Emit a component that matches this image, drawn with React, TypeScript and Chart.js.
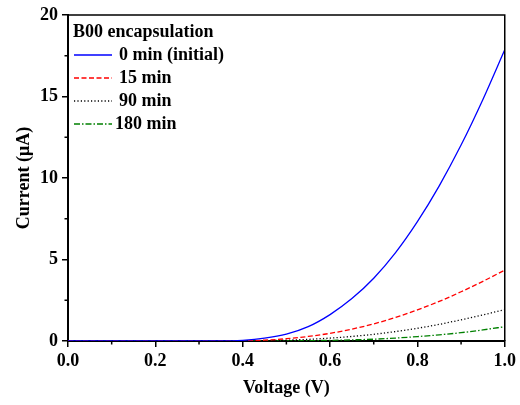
import React, { useEffect, useRef } from "react";
import { Chart, registerables } from "chart.js";

Chart.register(...registerables);

const voltage = [0, 0.05, 0.1, 0.15, 0.2, 0.25, 0.3, 0.35, 0.4, 0.45, 0.5, 0.55, 0.6, 0.65, 0.7, 0.75, 0.8, 0.85, 0.9, 0.95, 1.0];
const current0 = [0, 0, 0, 0, 0, 0, 0, 0, 0.04, 0.17, 0.42, 0.88, 1.62, 2.6, 3.85, 5.42, 7.32, 9.52, 12.02, 14.82, 17.87];
const current15 = [0, 0, 0, 0, 0, 0, 0, 0, 0.01, 0.05, 0.14, 0.28, 0.47, 0.73, 1.05, 1.45, 1.91, 2.43, 3.02, 3.66, 4.35];
const current90 = [0, 0, 0, 0, 0, 0, 0, 0, 0, 0.02, 0.05, 0.1, 0.18, 0.28, 0.41, 0.58, 0.78, 1.02, 1.3, 1.6, 1.93];
const current180 = [0, 0, 0, 0, 0, 0, 0, 0, 0, 0, 0.01, 0.02, 0.04, 0.07, 0.11, 0.18, 0.27, 0.38, 0.51, 0.68, 0.88];
const seriesLabels = ["0 min (initial)", "15 min", "90 min", "180 min"];
const legendTitle = "B00 encapsulation";
const xMinorTicks = [0.1, 0.3, 0.5, 0.7, 0.9];
const yMinorTicks = [2.5, 7.5, 12.5, 17.5];

const FONT = "'Liberation Serif', 'Times New Roman', serif";

const framePlugin = {
  id: "frame",
  afterDraw(chart: any) {
    const { ctx, chartArea } = chart;
    const { left, right, top, bottom } = chartArea;
    ctx.save();
    ctx.strokeStyle = "#000";
    ctx.lineWidth = 1.5;
    ctx.beginPath();
    ctx.moveTo(left, top);
    ctx.lineTo(right, top);
    ctx.lineTo(right, bottom);
    ctx.stroke();
    const xs = chart.scales.x;
    const ys = chart.scales.y;
    ctx.beginPath();
    xMinorTicks.forEach((v) => {
      const px = xs.getPixelForValue(v);
      ctx.moveTo(px, bottom);
      ctx.lineTo(px, bottom + 3.5);
    });
    yMinorTicks.forEach((v) => {
      const py = ys.getPixelForValue(v);
      ctx.moveTo(left, py);
      ctx.lineTo(left - 3.5, py);
    });
    ctx.stroke();
    ctx.restore();
  },
};

const legendPlugin = {
  id: "customLegend",
  afterDraw(chart: any) {
    const { ctx, chartArea } = chart;
    const x0 = chartArea.left + 6;
    const y0 = chartArea.top + 17;
    ctx.save();
    ctx.font = `bold 18px ${FONT}`;
    ctx.fillStyle = "#000";
    ctx.textBaseline = "middle";
    ctx.textAlign = "left";
    ctx.fillText(legendTitle, x0 - 1, y0);
    chart.data.datasets.forEach((ds: any, i: number) => {
      const y = y0 + 23 * (i + 1);
      ctx.save();
      ctx.strokeStyle = ds.borderColor;
      ctx.lineWidth = ds.borderWidth;
      ctx.setLineDash(ds.borderDash || []);
      ctx.beginPath();
      ctx.moveTo(x0, y);
      ctx.lineTo(x0 + 38, y);
      ctx.stroke();
      ctx.restore();
      ctx.fillText(ds.label, x0 + (i === 3 ? 41 : 45), y);
    });
    ctx.restore();
  },
};

export default function App() {
  const ref = useRef<HTMLCanvasElement | null>(null);
  useEffect(() => {
    document.body.style.margin = "0";
    const mk = (arr: number[]) => voltage.map((v, i) => ({ x: v, y: arr[i] }));
    const styles = [
      { color: "#0000ff", dash: [] as number[] },
      { color: "#ff0000", dash: [5, 2.5] },
      { color: "#000000", dash: [1.2, 2.2] },
      { color: "#008000", dash: [6, 2, 1.5, 2] },
    ];
    const all = [current0, current15, current90, current180];
    const chart = new Chart(ref.current!, {
      type: "line",
      data: {
        datasets: all.map((arr, i) => ({
          label: seriesLabels[i],
          data: mk(arr),
          borderColor: styles[i].color,
          backgroundColor: styles[i].color,
          borderDash: styles[i].dash,
          borderWidth: 1.3,
          pointRadius: 0,
          cubicInterpolationMode: "monotone" as const,
          fill: false,
        })),
      },
      options: {
        animation: false,
        responsive: false,
        layout: { padding: { left: 0, right: 14, top: 15, bottom: 0 } },
        plugins: { legend: { display: false }, tooltip: { enabled: false } },
        scales: {
          x: {
            type: "linear",
            min: 0,
            max: 1,
            afterFit: (s: any) => { s.height = 64; },
            ticks: {
              stepSize: 0.2,
              color: "#000",
              padding: 4,
              font: { family: FONT, size: 18, weight: "bold" },
              callback: (v: any) => Number(v).toFixed(1),
            },
            grid: { drawOnChartArea: false, tickLength: 6, color: "#000", lineWidth: 1.5 },
            border: { color: "#000", width: 2 },
            title: {
              display: true,
              text: "Voltage (V)",
              color: "#000",
              font: { family: FONT, size: 18, weight: "bold" },
              padding: { top: 0, bottom: 6 },
            },
          },
          y: {
            min: 0,
            max: 20,
            afterFit: (s: any) => { s.width = 68; },
            ticks: {
              stepSize: 5,
              color: "#000",
              padding: 4,
              font: { family: FONT, size: 18, weight: "bold" },
            },
            grid: { drawOnChartArea: false, tickLength: 6, color: "#000", lineWidth: 1.5 },
            border: { color: "#000", width: 2 },
            title: {
              display: true,
              text: "Current (μA)",
              color: "#000",
              font: { family: FONT, size: 18, weight: "bold" },
              padding: { top: 14, bottom: 0 },
            },
          },
        },
      },
      plugins: [framePlugin, legendPlugin],
    });
    return () => chart.destroy();
  }, []);
  return <canvas ref={ref} width={520} height={405} style={{ display: "block" }} />;
}
